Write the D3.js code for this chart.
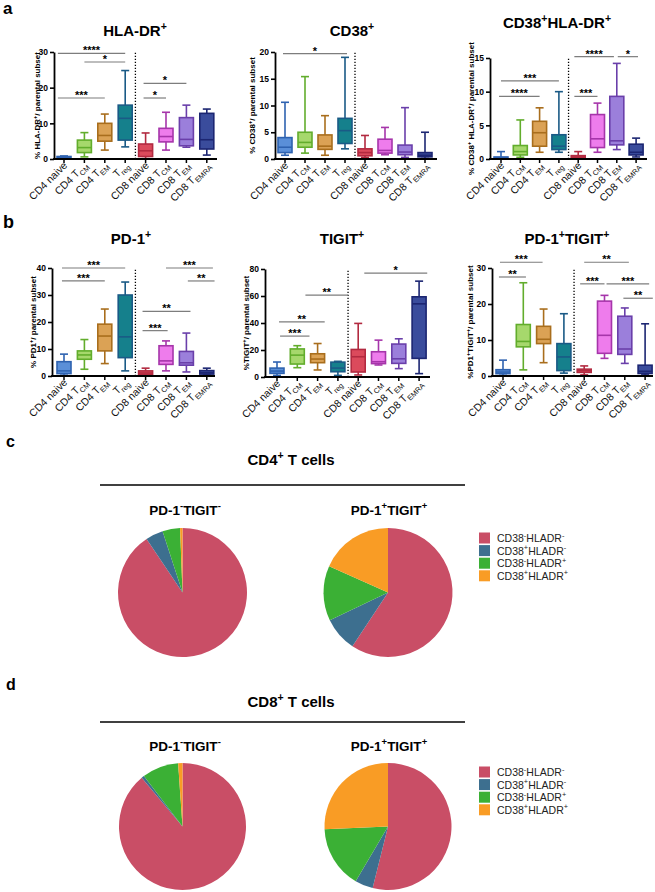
<!DOCTYPE html>
<html><head><meta charset="utf-8">
<script src="https://cdn.jsdelivr.net/npm/d3@7"></script>
<style>body{margin:0;background:#fff}svg{display:block}text{font-family:"Liberation Sans",Arial,Helvetica,sans-serif}</style>
</head><body><svg id="fig" width="655" height="892"></svg>
<script>
// ---------------- DATA ----------------
const categories = ["CD4 naive","CD4 TCM","CD4 TEM","Treg","CD8 naive","CD8 TCM","CD8 TEM","CD8 TEMRA"];
const categoryLabels = [
  [["CD4 naive",""]],
  [["CD4 T",""],["CM","sub"]],
  [["CD4 T",""],["EM","sub"]],
  [["T",""],["reg","sub"]],
  [["CD8 naive",""]],
  [["CD8 T",""],["CM","sub"]],
  [["CD8 T",""],["EM","sub"]],
  [["CD8 T",""],["EMRA","sub"]]
];
// [min, q1, median, q3, max] per category
const hladrBoxes = [[0.2,0.35,0.55,0.7,0.85],[0.6,1.8,3.2,5.3,7.4],[2.5,5.0,6.6,10.0,12.6],[3.4,5.3,11.4,15.1,24.8],
  [0.1,0.7,2.3,4.2,7.3],[2.5,4.8,6.3,8.6,13.1],[3.3,3.7,5.5,11.6,15.1],[1.1,2.8,5.4,12.8,14.0]];
const cd38Boxes = [[0.7,1.2,2.2,4.0,10.6],[1.1,2.2,3.1,5.0,15.4],[0.7,1.8,2.4,4.5,8.1],[1.9,2.9,5.3,7.6,19.0],
  [0.3,0.6,1.2,1.9,4.4],[0.8,1.1,1.6,3.7,5.9],[0.3,0.8,1.3,2.6,9.6],[0.1,0.4,0.7,1.2,5.0]];
const cd38HladrBoxes = [[0.05,0.1,0.2,0.3,1.1],[0.25,0.6,1.1,2.0,5.8],[1.0,1.9,3.9,5.6,7.6],[1.0,1.4,1.9,3.6,10.0],
  [0.05,0.15,0.3,0.5,1.1],[1.0,1.7,3.0,6.6,8.3],[1.4,2.1,2.7,9.3,14.2],[0.3,0.6,1.0,2.2,3.1]];
const pd1Boxes = [[0.3,0.9,1.9,5.3,8.1],[2.5,6.2,7.8,9.3,13.5],[4.6,9.3,14.8,19.2,24.8],[1.9,6.8,14.5,30.0,34.8],
  [0.1,0.5,1.1,1.9,2.9],[1.9,4.3,5.6,11.2,13.0],[1.5,4.0,4.9,9.1,15.9],[0.4,0.7,1.2,2.0,2.9]];
const tigitBoxes = [[1.2,2.7,4.4,6.6,11.1],[6.9,9.6,16.2,20.8,23.2],[5.2,10.6,13.3,17.2,24.8],[1.2,3.9,6.6,11.0,11.6],
  [1.5,3.7,15.0,20.4,39.7],[8.9,9.9,11.3,18.7,27.3],[6.2,10.1,13.5,24.4,28.3],[2.5,13.8,54.2,59.4,71.0]];
const pd1TigitBoxes = [[0.2,0.65,1.1,1.75,4.4],[1.7,8.1,9.6,14.3,25.9],[3.7,9.0,10.2,13.8,18.6],[0.8,1.5,5.3,9.0,17.3],
  [0.3,1.0,1.5,1.9,2.8],[4.9,6.3,11.3,20.8,22.4],[3.5,6.0,7.5,16.6,18.9],[0.3,0.7,1.3,3.0,14.5]];

// significance bars: [from index, to index, y value, label]
const hladrSig = [[-0.3,3,29.6,"****"],[1,3,27.2,"*"],[-0.3,2,17.1,"***"],[3.9,6,21.2,"*"],[3.9,5,17.1,"*"]];
const cd38Sig = [[-0.1,3.1,19.7,"*"]];
const cd38HladrSig = [[0,3,11.6,"***"],[-0.1,2,9.3,"****"],[3.8,5.85,15.2,"****"],[3.8,5,9.3,"***"],[6.05,7.1,15.2,"*"]];
const pd1Sig = [[-0.1,3,40,"***"],[-0.1,2,35.2,"***"],[5,7.3,40,"***"],[6.07,7.38,35.2,"**"],[3.85,6.2,23.9,"**"],[3.85,5.08,16.8,"***"]];
const tigitSig = [[4.3,7.4,77,"*"],[1.4,3.5,60.6,"**"],[0.1,2.35,40.9,"**"],[0.15,1.6,30.3,"***"]];
const pd1TigitSig = [[-0.15,1.95,31.6,"***"],[-0.2,1.13,27.5,"**"],[4.0,6.2,31.6,"**"],[3.8,5.0,25.6,"***"],[5.1,7.2,25.6,"***"],[5.93,7.38,21.6,"**"]];

const hladrTicks = [0,10,20,30];
const cd38Ticks = [0,5,10,15,20];
const cd38HladrTicks = [0,5,10,15];
const pd1Ticks = [0,10,20,30,40];
const tigitTicks = [0,20,40,60,80];
const pd1TigitTicks = [0,10,20,30];

const pieCategories = [
  [["CD38",""],["-","sup"],["HLADR",""],["-","sup"]],
  [["CD38",""],["+","sup"],["HLADR",""],["-","sup"]],
  [["CD38",""],["-","sup"],["HLADR",""],["+","sup"]],
  [["CD38",""],["+","sup"],["HLADR",""],["+","sup"]]
];
const cd4NegPie = [90.6,4.4,4.4,0.6];
const cd4PosPie = [59.3,8.6,13.8,18.3];
const cd8NegPie = [88.9,0.7,9.3,1.1];
const cd8PosPie = [53.9,4.6,15.8,25.7];

// ---------------- STYLE ----------------
const boxFill = ["#5a8fd8","#a6d86c","#dba255","#15808c","#db4a5c","#ee7cec","#9b7fdb","#3a4c9c"];
const boxStroke = ["#2e62b0","#62ad2c","#a96e1d","#1a5a86","#b22a40","#a635aa","#6a3faa","#1c2672"];
const pieColors = ["#c94e66","#3d6f8f","#3bb035","#f99c25"];

const svg = d3.select("#fig");

function rich(sel, parts, size){
  let cur = 0;
  parts.forEach(([t,k])=>{
    const target = k==="sup" ? -size*0.42 : (k==="sub" ? size*0.28 : 0);
    const ts = sel.append("tspan").text(t).attr("dy", target-cur);
    if(k) ts.attr("font-size", size*0.7);
    cur = target;
  });
  return sel;
}

function boxChart(cfg, data, sigs, ticks){
  const g = svg.append("g");
  const y = d3.scaleLinear().domain([0, ticks[ticks.length-1]]).range([cfg.y0, cfg.yTop]);
  const x = d3.scaleLinear().domain([0,7]).range([cfg.xFirst, cfg.xFirst + 7*cfg.xStep]);
  const bw = 14, cw = 8;
  rich(g.append("text").attr("x",cfg.titleX).attr("y",cfg.titleY).attr("text-anchor","middle")
    .attr("font-size",15).attr("font-weight","bold"), cfg.title, 15);
  rich(g.append("text").attr("transform",`translate(${cfg.ylabX},${(cfg.y0+cfg.yTop)/2}) rotate(-90)`)
    .attr("text-anchor","middle").attr("font-size",8).attr("font-weight","bold"), cfg.ylab, 8);
  g.append("line").attr("x1",x(3.5)).attr("x2",x(3.5)).attr("y1",cfg.y0).attr("y2",cfg.yTop)
    .attr("stroke","#000").attr("stroke-width",1.3).attr("stroke-dasharray","1.3,1.7");
  data.forEach((d,i)=>{
    const cx = x(i), [mn,q1,md,q3,mx] = d;
    const bg = g.append("g").attr("stroke",boxStroke[i]).attr("stroke-width",1.6).attr("fill","none");
    bg.append("line").attr("x1",cx).attr("x2",cx).attr("y1",y(mn)).attr("y2",y(q1));
    bg.append("line").attr("x1",cx).attr("x2",cx).attr("y1",y(q3)).attr("y2",y(mx));
    bg.append("line").attr("x1",cx-cw/2).attr("x2",cx+cw/2).attr("y1",y(mn)).attr("y2",y(mn));
    bg.append("line").attr("x1",cx-cw/2).attr("x2",cx+cw/2).attr("y1",y(mx)).attr("y2",y(mx));
    bg.append("rect").attr("x",cx-bw/2).attr("width",bw).attr("y",y(q3)).attr("height",Math.max(0.5,y(q1)-y(q3)))
      .attr("fill",boxFill[i]);
    bg.append("line").attr("x1",cx-bw/2).attr("x2",cx+bw/2).attr("y1",y(md)).attr("y2",y(md));
  });
  const ya = g.append("g").attr("transform",`translate(${cfg.axisX},0)`)
    .call(d3.axisLeft(y).tickValues(ticks).tickSize(4).tickSizeOuter(0).tickPadding(2));
  ya.select(".domain").attr("stroke-width",1.8);
  ya.selectAll(".tick line").attr("stroke-width",1.6);
  ya.selectAll("text").attr("font-size",8.5).attr("font-weight","bold").attr("font-family","Liberation Sans, Arial, sans-serif");
  g.append("line").attr("x1",cfg.axisX-0.9).attr("x2",cfg.xEnd).attr("y1",cfg.y0).attr("y2",cfg.y0)
    .attr("stroke","#000").attr("stroke-width",1.8);
  categories.forEach((c,i)=>{
    const cx = x(i);
    g.append("line").attr("x1",cx).attr("x2",cx).attr("y1",cfg.y0).attr("y2",cfg.y0+4).attr("stroke","#000").attr("stroke-width",1.5);
    rich(g.append("text").attr("transform",`translate(${cx+4},${cfg.y0+7}) rotate(-45)`)
      .attr("text-anchor","end").attr("font-size",10.5).attr("fill","#111"), categoryLabels[i], 10.5);
  });
  sigs.forEach(([a,b,v,lab])=>{
    g.append("line").attr("x1",x(a)).attr("x2",x(b)).attr("y1",y(v)).attr("y2",y(v))
      .attr("stroke","#7d7d7d").attr("stroke-width",1.2);
    g.append("text").attr("x",(x(a)+x(b))/2).attr("y",y(v)+1).attr("text-anchor","middle")
      .attr("font-size",11).attr("font-weight","bold").text(lab);
  });
}

const sup = s=>[s,"sup"];
boxChart({axisX:54,y0:159,yTop:52,xFirst:64,xStep:20.4,xEnd:217,titleX:135,titleY:36,ylabX:40,
  title:[["HLA-DR",""],sup("+")], ylab:[["% HLA-DR",""],sup("+"),["/ parental subset",""]]}, hladrBoxes, hladrSig, hladrTicks);
boxChart({axisX:275,y0:159,yTop:52,xFirst:285,xStep:20,xEnd:437,titleX:352,titleY:36,ylabX:255,
  title:[["CD38",""],sup("+")], ylab:[["% CD38",""],sup("+"),["/ parental subset",""]]}, cd38Boxes, cd38Sig, cd38Ticks);
boxChart({axisX:490,y0:159,yTop:58,xFirst:501,xStep:19.3,xEnd:647,titleX:557,titleY:28,ylabX:474,
  title:[["CD38",""],sup("+"),["HLA-DR",""],sup("+")], ylab:[["% CD38",""],sup("+"),[" HLA-DR",""],sup("+"),["/ parental subset",""]]}, cd38HladrBoxes, cd38HladrSig, cd38HladrTicks);
boxChart({axisX:52,y0:376,yTop:268,xFirst:64,xStep:20.4,xEnd:215,titleX:131,titleY:244,ylabX:36,
  title:[["PD-1",""],sup("+")], ylab:[["% PD1",""],sup("+"),["/ parental subset",""]]}, pd1Boxes, pd1Sig, pd1Ticks);
boxChart({axisX:265,y0:377,yTop:269,xFirst:277,xStep:20.3,xEnd:430,titleX:342,titleY:244,ylabX:249,
  title:[["TIGIT",""],sup("+")], ylab:[["%TIGIT",""],sup("+"),["/ parental subset",""]]}, tigitBoxes, tigitSig, tigitTicks);
boxChart({axisX:492,y0:376,yTop:268,xFirst:503,xStep:20.3,xEnd:653,titleX:567,titleY:244,ylabX:473,
  title:[["PD-1",""],sup("+"),["TIGIT",""],sup("+")], ylab:[["%PD1",""],sup("+"),["TIGIT",""],sup("+"),["/ parental subset",""]]}, pd1TigitBoxes, pd1TigitSig, pd1TigitTicks);

[["a",3,14,17],["b",3,228,18],["c",6,447,16],["d",6,690,16]].forEach(([t,x,yy,s])=>{
  svg.append("text").attr("x",x).attr("y",yy).attr("font-size",s).attr("font-weight","bold").text(t);
});

function pieBlock(cfg, negVals, posVals){
  const g = svg.append("g");
  rich(g.append("text").attr("x",291).attr("y",cfg.titleY).attr("text-anchor","middle").attr("font-size",15).attr("font-weight","bold"),
    [["CD"+cfg.cd,""],sup("+"),[" T cells",""]], 15);
  g.append("line").attr("x1",100).attr("x2",465).attr("y1",cfg.lineY).attr("y2",cfg.lineY).attr("stroke","#000").attr("stroke-width",1.3);
  rich(g.append("text").attr("x",185).attr("y",cfg.subY).attr("text-anchor","middle").attr("font-size",13.5).attr("font-weight","bold"),
    [["PD-1",""],sup("-"),["TIGIT",""],sup("-")], 13.5);
  rich(g.append("text").attr("x",389).attr("y",cfg.subY).attr("text-anchor","middle").attr("font-size",13.5).attr("font-weight","bold"),
    [["PD-1",""],sup("+"),["TIGIT",""],sup("+")], 13.5);
  const pie = d3.pie().sort(null).value(d=>d);
  const arc = d3.arc().innerRadius(0).outerRadius(cfg.r);
  [[182.5,negVals],[388,posVals]].forEach(([cx,vals])=>{
    g.append("g").attr("transform",`translate(${cx},${cfg.cy})`).selectAll("path").data(pie(vals)).join("path")
      .attr("d",arc).attr("fill",(d,i)=>pieColors[i]);
  });
  pieCategories.forEach((p,i)=>{
    const yy = cfg.legY + i*12.6;
    g.append("rect").attr("x",479).attr("y",yy-5.5).attr("width",11).attr("height",11).attr("fill",pieColors[i]);
    rich(g.append("text").attr("x",497).attr("y",yy+4).attr("font-size",10.5).attr("fill","#222"), p, 10.5);
  });
}
pieBlock({cd:"4",titleY:465,lineY:485,subY:515,cy:592.5,r:64.5,legY:538}, cd4NegPie, cd4PosPie);
pieBlock({cd:"8",titleY:707,lineY:722,subY:751,cy:826.5,r:63.5,legY:772}, cd8NegPie, cd8PosPie);
</script></body></html>
